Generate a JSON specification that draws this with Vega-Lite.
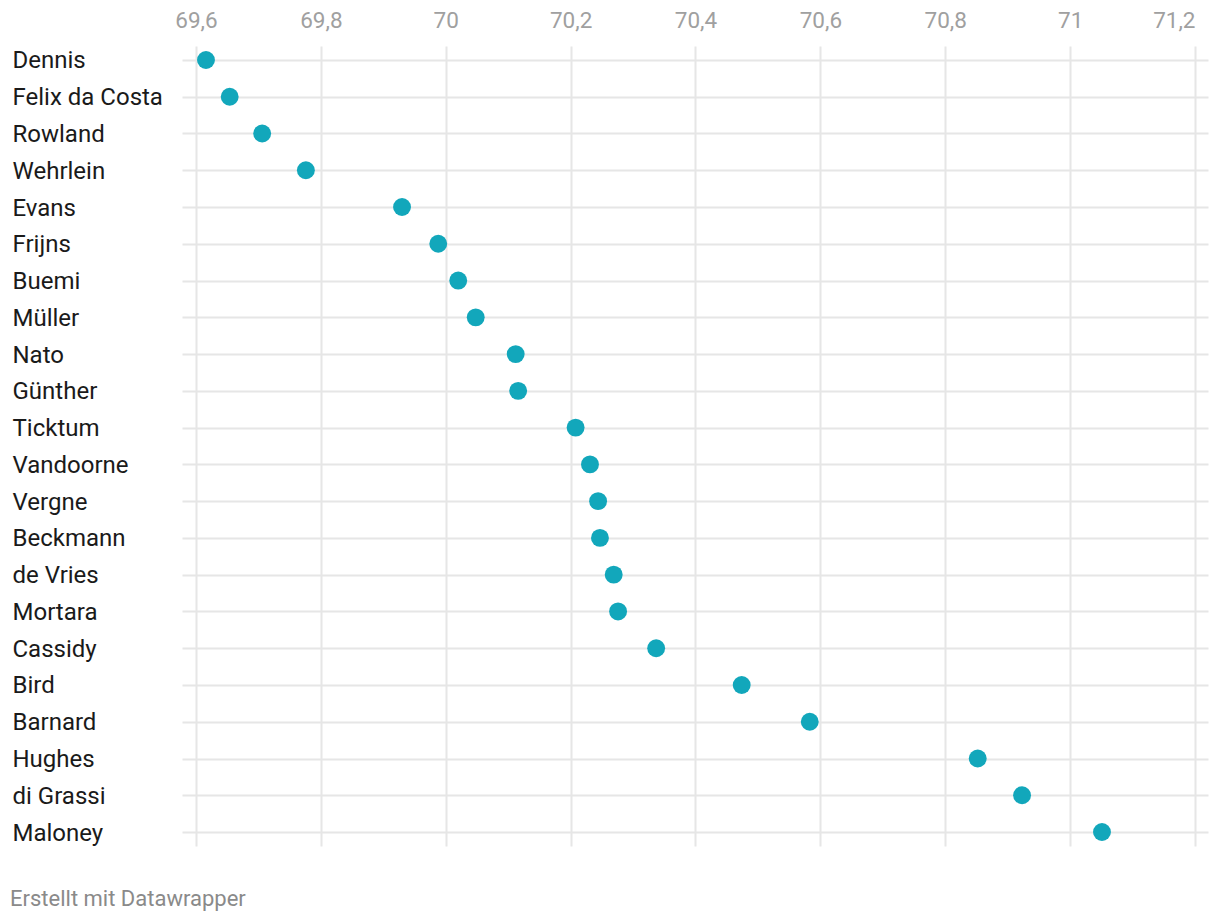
{
  "$schema": "https://vega.github.io/schema/vega-lite/v6.json",
  "width": 1026,
  "height": 800,
  "autosize": {"type": "none"},
  "padding": {"left": 182, "top": 46, "right": 12, "bottom": 78},
  "background": "white",
  "config": {
    "font": "Roboto",
    "view": {"stroke": null}
  },
  "title": {
    "text": "Erstellt mit Datawrapper",
    "orient": "bottom",
    "anchor": "start",
    "frame": "group",
    "dx": -172,
    "offset": 43,
    "fontSize": 22,
    "fontWeight": "normal",
    "color": "#8a8a8a",
    "font": "Roboto",
    "baseline": "top"
  },
  "data": {
    "values": [
      {"driver": "Dennis", "time": 69.616},
      {"driver": "Felix da Costa", "time": 69.654},
      {"driver": "Rowland", "time": 69.706},
      {"driver": "Wehrlein", "time": 69.776},
      {"driver": "Evans", "time": 69.930},
      {"driver": "Frijns", "time": 69.988},
      {"driver": "Buemi", "time": 70.020},
      {"driver": "Müller", "time": 70.048},
      {"driver": "Nato", "time": 70.112},
      {"driver": "Günther", "time": 70.116},
      {"driver": "Ticktum", "time": 70.208},
      {"driver": "Vandoorne", "time": 70.231},
      {"driver": "Vergne", "time": 70.244},
      {"driver": "Beckmann", "time": 70.247},
      {"driver": "de Vries", "time": 70.269},
      {"driver": "Mortara", "time": 70.276},
      {"driver": "Cassidy", "time": 70.337},
      {"driver": "Bird", "time": 70.474},
      {"driver": "Barnard", "time": 70.583},
      {"driver": "Hughes", "time": 70.852},
      {"driver": "di Grassi", "time": 70.923},
      {"driver": "Maloney", "time": 71.051}
    ]
  },
  "mark": {"type": "circle", "size": 320, "opacity": 1, "color": "#12a7bb"},
  "encoding": {
    "x": {
      "field": "time",
      "type": "quantitative",
      "scale": {"domain": [69.5776, 71.2208], "nice": false, "zero": false},
      "axis": {
        "orient": "top",
        "title": null,
        "values": [69.6, 69.8, 70, 70.2, 70.4, 70.6, 70.8, 71, 71.2],
        "labelExpr": "replace(format(datum.value, '.1~f'), '.', ',')",
        "labelAlign": {"condition": {"test": "datum.value > 71.1", "value": "right"}, "value": "center"},
        "labelFlush": false,
        "labelOverlap": false,
        "domain": false,
        "ticks": false,
        "labelPadding": 14,
        "labelFontSize": 22.5,
        "labelColor": "#a0a0a0",
        "labelFont": "Roboto",
        "grid": true,
        "gridColor": "#e6e6e6",
        "gridWidth": 2
      }
    },
    "y": {
      "field": "driver",
      "type": "nominal",
      "sort": null,
      "scale": {"type": "point", "padding": 0.38},
      "axis": {
        "title": null,
        "domain": false,
        "ticks": false,
        "labelAlign": "left",
        "labelBaseline": "middle",
        "labelOffset": 1,
        "labelPadding": 170,
        "labelFontSize": 24,
        "labelColor": "#1a1a1a",
        "labelFont": "Roboto",
        "labelLimit": 0,
        "grid": true,
        "gridColor": "#e6e6e6",
        "gridWidth": 2
      }
    }
  }
}
